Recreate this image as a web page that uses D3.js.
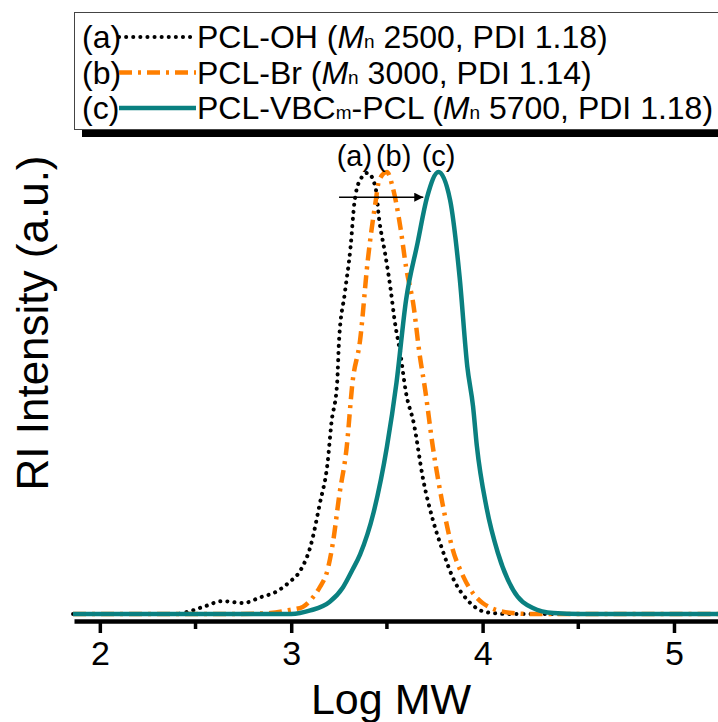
<!DOCTYPE html>
<html>
<head>
<meta charset="utf-8">
<script src="https://cdn.jsdelivr.net/npm/d3@7"></script>
<style>
  body { margin: 0; background: #fff; }
  svg { font-family: "Liberation Sans", Arial, sans-serif; }
</style>
</head>
<body>
<div id="gpcChart"></div>
<script>
// log MW / normalised RI intensity
var logA = [1.86, 2.40, 2.46, 2.54, 2.64, 2.75, 2.84, 2.92, 2.99, 3.05, 3.10, 3.15, 3.19, 3.21, 3.24, 3.25, 3.28, 3.31, 3.33, 3.36, 3.40, 3.44, 3.46, 3.49, 3.52, 3.54, 3.57, 3.60, 3.64, 3.69, 3.74, 3.79, 3.85, 3.92, 4.02, 4.14, 5.23];
var riA  = [0, 0, 0.005, 0.016, 0.029, 0.025, 0.038, 0.05, 0.072, 0.10, 0.152, 0.251, 0.342, 0.432, 0.523, 0.62, 0.726, 0.83, 0.93, 0.982, 0.998, 0.966, 0.891, 0.817, 0.733, 0.665, 0.59, 0.50, 0.432, 0.303, 0.213, 0.145, 0.077, 0.032, 0.004, 0, 0];

var logB = [1.86, 2.70, 2.89, 2.99, 3.06, 3.11, 3.15, 3.19, 3.22, 3.25, 3.29, 3.32, 3.36, 3.40, 3.44, 3.46, 3.50, 3.53, 3.57, 3.60, 3.64, 3.67, 3.70, 3.74, 3.79, 3.84, 3.90, 4.00, 4.14, 4.25, 5.23];
var riB  = [0, 0, 0.002, 0.009, 0.016, 0.036, 0.061, 0.10, 0.167, 0.265, 0.378, 0.523, 0.62, 0.80, 0.93, 0.982, 1.0, 0.966, 0.876, 0.785, 0.695, 0.59, 0.507, 0.378, 0.251, 0.152, 0.084, 0.025, 0.003, 0, 0];

var logC = [1.86, 3.00, 3.10, 3.20, 3.27, 3.32, 3.36, 3.43, 3.50, 3.55, 3.60, 3.66, 3.71, 3.77, 3.83, 3.88, 3.92, 3.95, 3.97, 4.02, 4.08, 4.16, 4.26, 4.37, 4.51, 5.23];
var riC  = [0, 0, 0.008, 0.027, 0.06, 0.10, 0.135, 0.229, 0.378, 0.523, 0.71, 0.839, 0.943, 1.0, 0.937, 0.762, 0.56, 0.47, 0.38, 0.242, 0.138, 0.054, 0.014, 0.002, 0, 0];

var seriesTags = ["(a)", "(b)", "(c)"];
var seriesNames = ["PCL-OH", "PCL-Br", "PCL-VBC"];
var seriesSub = ["", "", "m"];
var seriesTail = ["", "", "-PCL"];
var mnValues = ["2500", "3000", "5700"];
var pdiValues = ["1.18", "1.14", "1.18"];
var colors = ["#000000", "#ff7f00", "#0a8080"];

var xTicks = [2, 3, 4, 5];
var xMinor = [2.5, 3.5, 4.5];
var peakLabelX = [3.33, 3.535, 3.77];
var arrowFrom = [3.25, 0.943], arrowTo = [3.69, 0.943];

var width = 718, height = 722;
var svg = d3.select("#gpcChart").append("svg")
  .attr("width", width).attr("height", height);

var x = d3.scaleLinear().domain([1.865, 5.23]).range([74, 718]);
var y = d3.scaleLinear().domain([0, 1]).range([614, 172]);

var styles = [
  {w: 4, dash: "0.1,7", cap: "round"},
  {w: 4.5, dash: "13,6,3,6", cap: "butt"},
  {w: 4.5, dash: null, cap: "butt"}
];

var line = d3.line().x(function(d){ return x(d[0]); }).y(function(d){ return y(d[1]); })
  .curve(d3.curveMonotoneX);

var sets = [d3.zip(logA, riA), d3.zip(logB, riB), d3.zip(logC, riC)];

sets.forEach(function(s, i) {
  svg.append("path")
    .attr("d", line(s))
    .attr("fill", "none")
    .attr("stroke", colors[i])
    .attr("stroke-width", styles[i].w)
    .attr("stroke-dasharray", styles[i].dash)
    .attr("stroke-linecap", styles[i].cap)
    .attr("stroke-linejoin", "round");
});

// x axis
var xAxis = svg.append("g")
  .attr("transform", "translate(0,621)")
  .call(d3.axisBottom(x).tickValues(xTicks).tickFormat(d3.format("d"))
    .tickSize(12).tickSizeOuter(0).tickPadding(8));
xAxis.select(".domain").attr("stroke-width", 4.5);
xAxis.selectAll(".tick line").attr("stroke-width", 3.5);
xAxis.selectAll(".tick text").attr("font-size", 34).attr("font-family", "Liberation Sans, Arial, sans-serif").attr("fill", "#000");

svg.append("g").selectAll("line")
  .data(xMinor).enter().append("line")
  .attr("x1", function(d){ return x(d); }).attr("x2", function(d){ return x(d); })
  .attr("y1", 621).attr("y2", 629)
  .attr("stroke", "#000").attr("stroke-width", 3.5);

svg.append("text")
  .attr("x", 391).attr("y", 714)
  .attr("text-anchor", "middle").attr("font-size", 43)
  .text("Log MW");

svg.append("text")
  .attr("transform", "translate(48,323) rotate(-90)")
  .attr("text-anchor", "middle").attr("font-size", 44)
  .text("RI Intensity (a.u.)");

// peak labels and arrow
svg.append("g").selectAll("text")
  .data(seriesTags).enter().append("text")
  .attr("x", function(d, i){ return x(peakLabelX[i]); })
  .attr("y", 166)
  .attr("text-anchor", "middle").attr("font-size", 29)
  .text(function(d){ return d; });

svg.append("defs").append("marker")
  .attr("id", "head").attr("viewBox", "0 0 10 10")
  .attr("refX", 10).attr("refY", 5)
  .attr("markerWidth", 14).attr("markerHeight", 9)
  .attr("markerUnits", "userSpaceOnUse")
  .attr("orient", "auto")
  .append("path").attr("d", "M0,0L10,5L0,10z").attr("fill", "#000");
svg.append("line")
  .attr("x1", x(arrowFrom[0])).attr("y1", y(arrowFrom[1]))
  .attr("x2", x(arrowTo[0])).attr("y2", y(arrowTo[1]))
  .attr("stroke", "#000").attr("stroke-width", 1.5)
  .attr("marker-end", "url(#head)");

// legend box with drop shadow
svg.append("rect").attr("x", 82).attr("y", 20).attr("width", 700).attr("height", 117).attr("fill", "#000");
svg.append("rect").attr("x", 74.5).attr("y", 12.5).attr("width", 700).attr("height", 117)
  .attr("fill", "#fff").attr("stroke", "#444").attr("stroke-width", 1);

var leg = svg.append("g");
seriesTags.forEach(function(tag, i) {
  var by = 48 + i * 35.5;
  leg.append("text").attr("x", 82).attr("y", by).attr("font-size", 32).text(tag);
  leg.append("line")
    .attr("x1", 119).attr("x2", 196).attr("y1", by - 11).attr("y2", by - 11)
    .attr("stroke", colors[i]).attr("stroke-width", styles[i].w)
    .attr("stroke-dasharray", styles[i].dash)
    .attr("stroke-linecap", styles[i].cap);
  var t = leg.append("text").attr("x", 197).attr("y", by).attr("font-size", 32);
  t.append("tspan").text(seriesNames[i]);
  if (seriesSub[i]) t.append("tspan").attr("font-size", 19).text(seriesSub[i]);
  t.append("tspan").text(seriesTail[i] + " (");
  t.append("tspan").attr("font-style", "italic").text("M");
  t.append("tspan").attr("font-size", 19).text("n");
  t.append("tspan").text(" " + mnValues[i] + ", PDI " + pdiValues[i] + ")");
});
</script>
</body>
</html>
